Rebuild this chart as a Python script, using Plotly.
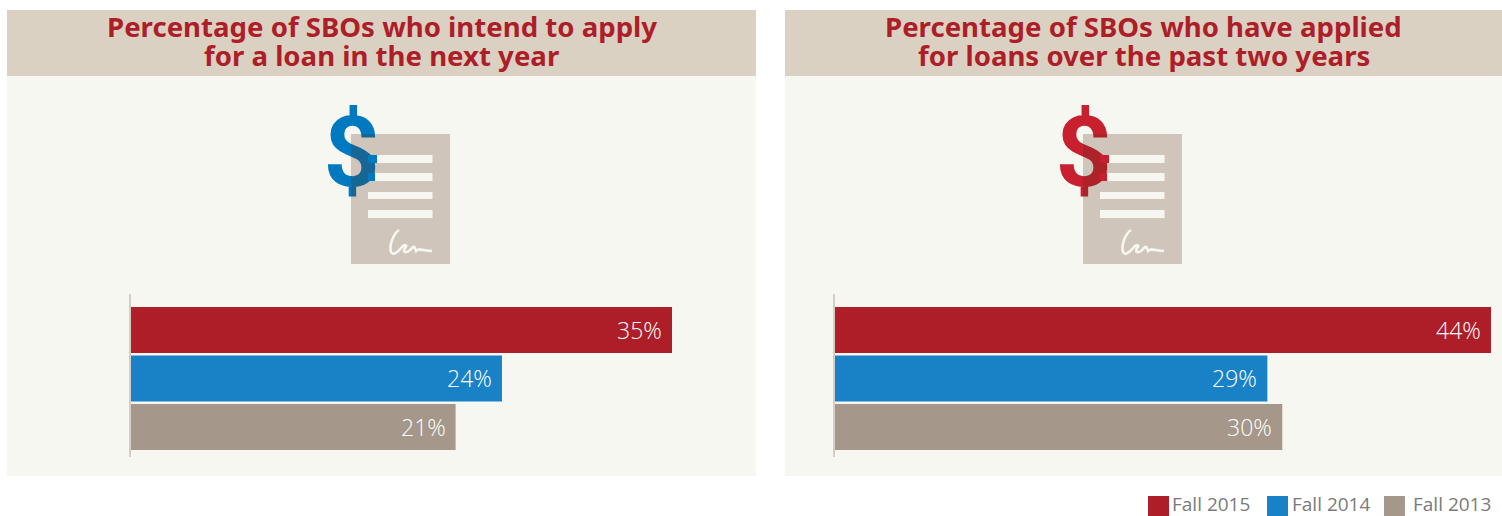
import plotly.graph_objects as go

WIDTH, HEIGHT = 1502, 516

# Data
seasons = ["Fall 2015", "Fall 2014", "Fall 2013"]
intend_to_apply = [35, 24, 21]
have_applied = [44, 29, 30]
title_left = ["Percentage of SBOs who intend to apply", "for a loan in the next year"]
title_right = ["Percentage of SBOs who have applied", "for loans over the past two years"]

# Styles
season_colors = ["#AD1E28", "#1982C6", "#A59789"]
header_color = "#DBD1C3"
body_color = "#F7F7F2"
title_color = "#AD1E28"
axis_line_color = "#D6CEC4"
legend_text_color = "#7A7A7A"
paper_tint = "rgba(88,48,24,0.25)"
TITLE_FONT = "Noto Sans"
LABEL_FONT = "Open Sans"

fig = go.Figure()
shapes = []
annotations = []


def box(x0, y0, x1, y1, color, layer="below"):
    shapes.append(dict(type="rect", xref="x", yref="y", x0=x0, y0=y0, x1=x1, y1=y1,
                       fillcolor=color, line_width=0, layer=layer))


def note(x, y, text, size, color, family, anchor="center", bold=False):
    annotations.append(dict(xref="x", yref="y", x=x, y=y, text=f"<b>{text}</b>" if bold else text,
                            showarrow=False, xanchor=anchor, yanchor="middle",
                            font=dict(size=size, color=color, family=family)))


def icon(dx, dollar_color, highlight_color):
    """Loan document with a dollar sign tucked behind its top-left corner."""
    fig.add_trace(go.Scatter(x=[351.5 + dx], y=[161], mode="text", text=["$"], xaxis="x", yaxis="y",
                             textposition="middle center", hoverinfo="skip", showlegend=False,
                             textfont=dict(size=98, color=dollar_color, family="Roboto", weight=700)))
    box(351 + dx, 134, 450 + dx, 264, paper_tint, layer="above")
    rows = [(155, 163, 377), (173, 181, 375), (192, 199, 368), (210, 218, 368)]
    for top, bottom, start in rows:
        box(start + dx, top, 432.5 + dx, bottom, body_color, layer="above")
    box(368 + dx, 155, 377 + dx, 163, highlight_color, layer="above")
    box(368 + dx, 173, 375 + dx, 181, highlight_color, layer="above")
    # Handwritten signature at the foot of the page
    p = lambda x, y: f"{x + dx:.1f},{y:.1f}"
    signature = (f"M{p(399, 230)} C{p(393, 234)} {p(389, 246)} {p(391, 252)} "
                 f"C{p(393, 256)} {p(398, 252)} {p(402, 247)} "
                 f"C{p(405, 244)} {p(408, 245)} {p(405, 248)} "
                 f"C{p(402, 253)} {p(407, 254)} {p(412, 248)} "
                 f"C{p(415, 245)} {p(415, 249)} {p(416, 251)} "
                 f"C{p(418, 248)} {p(421, 250)} {p(432, 251)}")
    shapes.append(dict(type="path", xref="x", yref="y", path=signature, layer="above",
                       line=dict(color=body_color, width=2.6)))


def panel(x0, x1, lines):
    box(x0, 10, x1, 476, body_color)
    box(x0, 10, x1, 76, header_color)
    center = (x0 + x1) / 2
    note(center, 25.5, lines[0], 27.6, title_color, TITLE_FONT, bold=True)
    note(center, 54.5, lines[1], 27.6, title_color, TITLE_FONT, bold=True)


panel(7, 756, title_left)
panel(785, 1502, title_right)

icon(0, "#0079C1", "#0079C1")
icon(732, "#C8202F", "#C8202F")

# Bars, one panel per axis pair
for name, values in (("2", intend_to_apply), ("3", have_applied)):
    fig.add_trace(go.Bar(x=values, y=seasons, orientation="h", width=0.948,
                         marker=dict(color=season_colors, line_width=0),
                         xaxis=f"x{name}", yaxis=f"y{name}", hoverinfo="skip", showlegend=False))
    for season, value in zip(seasons, values):
        annotations.append(dict(xref=f"x{name}", yref=f"y{name}", x=value, y=season, text=f"{value}%",
                                showarrow=False, xanchor="right", yanchor="middle", xshift=-8,
                                font=dict(size=23, color="#FFFFFF", family=LABEL_FONT, weight=300)))

# Legend row
legend_swatches = [1148, 1267, 1384]
legend_labels = [1170, 1290, 1411]
for season, color, swatch, label in zip(seasons, season_colors, legend_swatches, legend_labels):
    box(swatch, 496, swatch + 21, 516, color)
    note(label, 503.6, season, 19, legend_text_color, LABEL_FONT, anchor="left")


def bar_axis(left, right, top_value):
    return dict(domain=[left / WIDTH, right / WIDTH], range=[0, top_value], visible=False, fixedrange=True)


def cat_axis(anchor):
    return dict(domain=[1 - 457 / HEIGHT, 1 - 294 / HEIGHT], range=[2.619, -0.742], type="category",
                categoryorder="array", categoryarray=seasons, anchor=anchor,
                showline=True, linecolor=axis_line_color, linewidth=2, ticks="", showticklabels=False,
                showgrid=False, zeroline=False, fixedrange=True)


fig.update_layout(
    width=WIDTH, height=HEIGHT, autosize=False,
    margin=dict(l=0, r=0, t=0, b=0), paper_bgcolor="#FFFFFF", plot_bgcolor="rgba(0,0,0,0)",
    barmode="overlay", showlegend=False,
    xaxis=dict(domain=[0, 1], range=[0, WIDTH], visible=False, fixedrange=True),
    yaxis=dict(domain=[0, 1], range=[HEIGHT, 0], visible=False, fixedrange=True),
    xaxis2=bar_axis(131, 672, max(intend_to_apply)),
    yaxis2=cat_axis("x2"),
    xaxis3=bar_axis(835, 1491, max(have_applied)),
    yaxis3=cat_axis("x3"),
    shapes=shapes, annotations=annotations,
)

fig.write_html("out.html", config=dict(displayModeBar=False))
